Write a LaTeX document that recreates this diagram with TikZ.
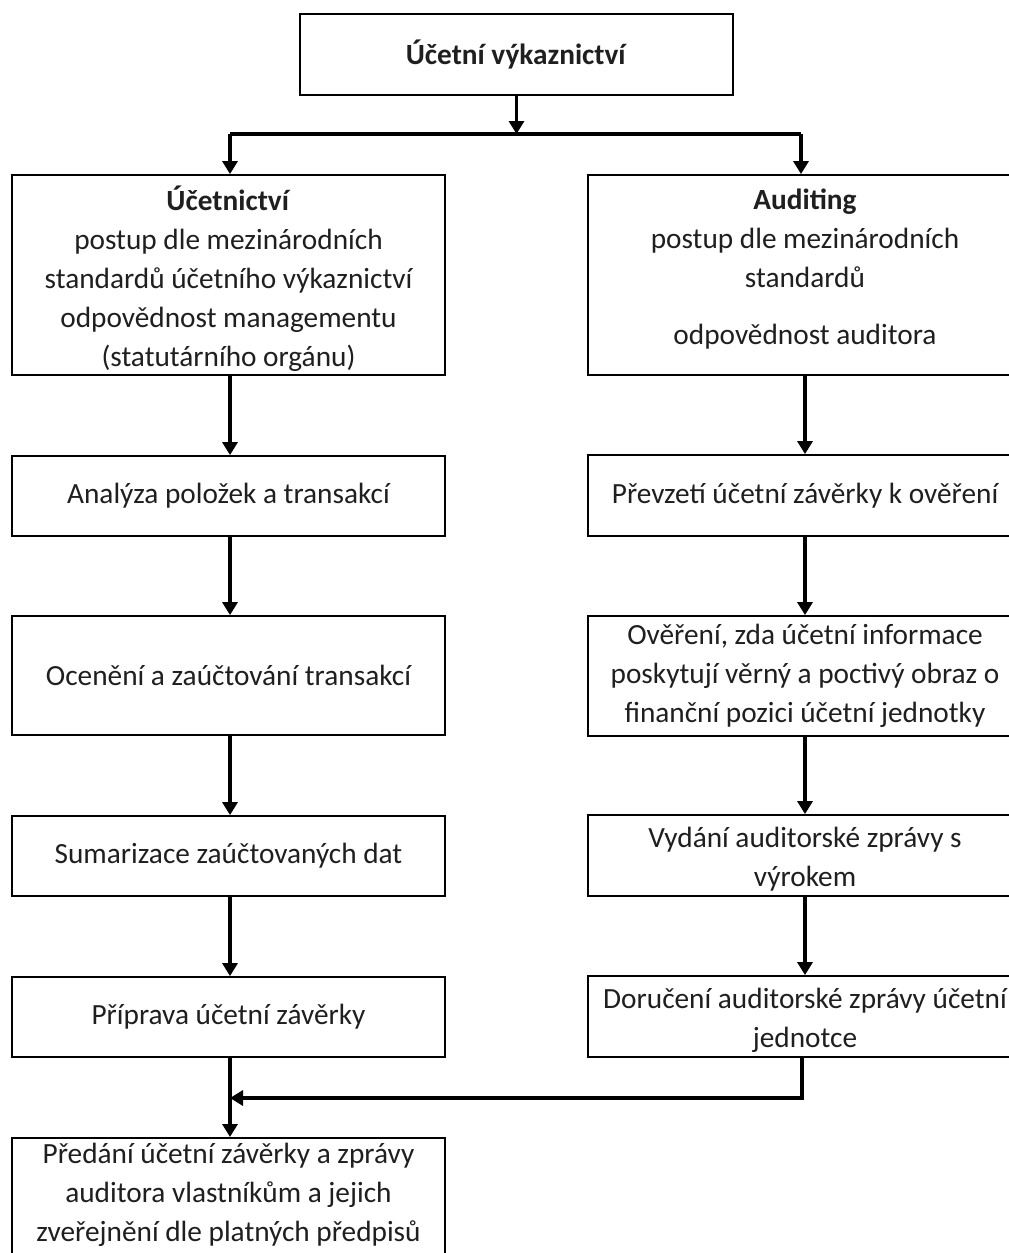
\documentclass[tikz,border=0pt]{standalone}
\usepackage{fontspec}
\setmainfont{Carlito}
\usetikzlibrary{arrows.meta}
\begin{document}
\begin{tikzpicture}[x=1pt,y=-1pt,
  box/.style={draw=black, line width=1.8pt, align=center, inner sep=0pt,
    font=\fontsize{29.3}{39}\selectfont, text=black!88},
  lbox/.style={box, minimum width=433pt},
  rbox/.style={box, minimum width=434pt},
  arr/.style={line width=3.2pt, -{Triangle[length=13pt,width=15pt]}},
  ln/.style={line width=3.2pt}]
\useasboundingbox (0,0) rectangle (1009,1253);
\fill[white] (0,0) rectangle (1009,1253);
\clip (0,0) rectangle (1009,1253);

% top
\node[lbox, minimum height=81pt] (top) at (516.5,54.5) {\textbf{Účetní výkaznictví}};

% left column
\node[lbox, minimum height=200pt] (L1) at (228.5,275) {\rule{0pt}{32pt}\textbf{Účetnictví}\\postup dle mezinárodních\\standardů účetního výkaznictví\\odpovědnost managementu\\(statutárního orgánu)};
\node[lbox, minimum height=80pt] (L2) at (228.5,496) {Analýza položek a transakcí};
\node[lbox, minimum height=119pt] (L3) at (228.5,675.5) {Ocenění a zaúčtování transakcí};
\node[lbox, minimum height=80pt] (L4) at (228.5,856) {Sumarizace zaúčtovaných dat};
\node[lbox, minimum height=80pt] (L5) at (228.5,1017) {Příprava účetní závěrky};
\node[lbox, anchor=north, inner ysep=5pt] (L6) at (228.5,1137) {Předání účetní závěrky a zprávy\\auditora vlastníkům a jejich\\zveřejnění dle platných předpisů\rule[-25pt]{0pt}{25pt}};

% right column
\node[rbox, minimum height=200pt] (R1) at (805,275) {\textbf{Auditing}\\postup dle mezinárodních\\standardů\\[18pt]odpovědnost auditora\rule[-17pt]{0pt}{0pt}};
\node[rbox, minimum height=81pt] (R2) at (805,495.5) {Převzetí účetní závěrky k ověření};
\node[rbox, minimum height=120pt] (R3) at (805,676) {Ověření, zda účetní informace\\poskytují věrný a poctivý obraz o\\finanční pozici účetní jednotky};
\node[rbox, minimum height=81pt] (R4) at (805,855.5) {\rule{0pt}{27pt}Vydání auditorské zprávy s\\výrokem};
\node[rbox, minimum height=81pt] (R5) at (805,1016.5) {\rule{0pt}{27pt}Doručení auditorské zprávy účetní\\jednotce};

% split
\coordinate (sL) at (230,134);
\coordinate (sR) at (801,134);
\draw[arr] (top.south) -- (top.south |- sL);
\draw[ln] (sL) -- (sR);
\draw[arr] (sL) -- (sL |- L1.north);
\draw[arr] (sR) -- (sR |- R1.north);

% left chain
\draw[arr] (L1.south -| sL) -- (sL |- L2.north);
\draw[arr] (L2.south -| sL) -- (sL |- L3.north);
\draw[arr] (L3.south -| sL) -- (sL |- L4.north);
\draw[arr] (L4.south -| sL) -- (sL |- L5.north);
\draw[arr] (L5.south -| sL) -- (sL |- L6.north);

% right chain
\draw[arr] (R1.south) -- (R2.north);
\draw[arr] (R2.south) -- (R3.north);
\draw[arr] (R3.south) -- (R4.north);
\draw[arr] (R4.south) -- (R5.north);

% merge
\coordinate (m) at (802,1098);
\draw[arr] (R5.south -| m) -- (m) -- (sL |- m);
\end{tikzpicture}
\end{document}
